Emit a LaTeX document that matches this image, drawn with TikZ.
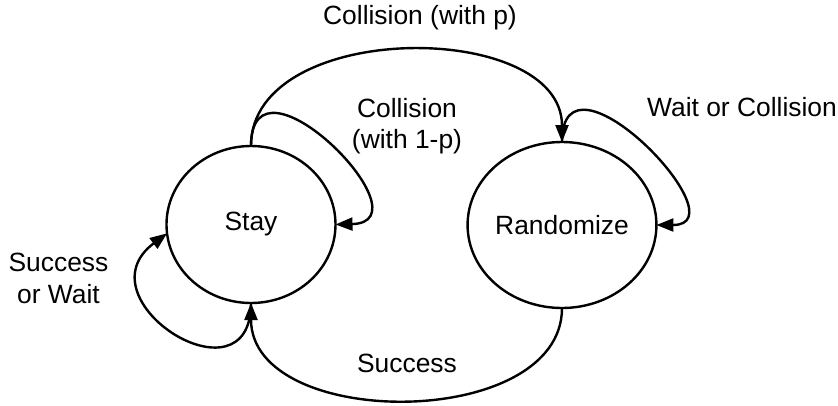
\documentclass[tikz,border=0pt]{standalone}
\usepackage{fontspec}
\setmainfont{Liberation Sans}
\usetikzlibrary{arrows.meta,shapes.geometric}
\begin{document}
\begin{tikzpicture}[x=1pt,y=-1pt, line width=2.4pt,
  state/.style={ellipse, draw, inner sep=0pt, outer sep=0pt, font=\fontsize{26.4}{31.5}\selectfont},
  lbl/.style={font=\fontsize{26.4}{31.5}\selectfont, inner sep=0pt, align=center},
  edge/.style={-{Triangle[length=17pt,width=13pt]}}]
\useasboundingbox (0,0) rectangle (838,405);

\node[state, minimum width=169pt, minimum height=157pt] (stay) at (251,224.5) {Stay};
\node[state, minimum width=171pt, minimum height=166pt] (rand) at (562,225) {Randomize};

% Collision (with p)
\draw[edge] (stay.north) .. controls (251,19) and (562,19) .. (rand.north);
% Collision (with 1-p) self loop
\draw[edge] (stay.north) .. controls (251,40) and (432,222) .. (stay.east);
% Wait or Collision self loop
\draw[edge] (rand.north) .. controls (562,36) and (744,225) .. (rand.east);
% Success or Wait self loop
\draw[edge] (stay.south) .. controls (251,409) and (78,300) .. (stay.186);
% Success
\draw[edge] (rand.south) .. controls (562,431) and (251,431) .. (stay.south);

\node[lbl] (l1) at (420,18) {Collision (with p)};
\node[lbl] (l2) at (407,126) {Collision\\(with 1-p)};
\node[lbl] (l3) at (742,107) {Wait or Collision};
\node[lbl] (l4) at (58.5,278.5) {Success\\or Wait};
\node[lbl] (l5) at (407,363) {Success};
\end{tikzpicture}
\end{document}
